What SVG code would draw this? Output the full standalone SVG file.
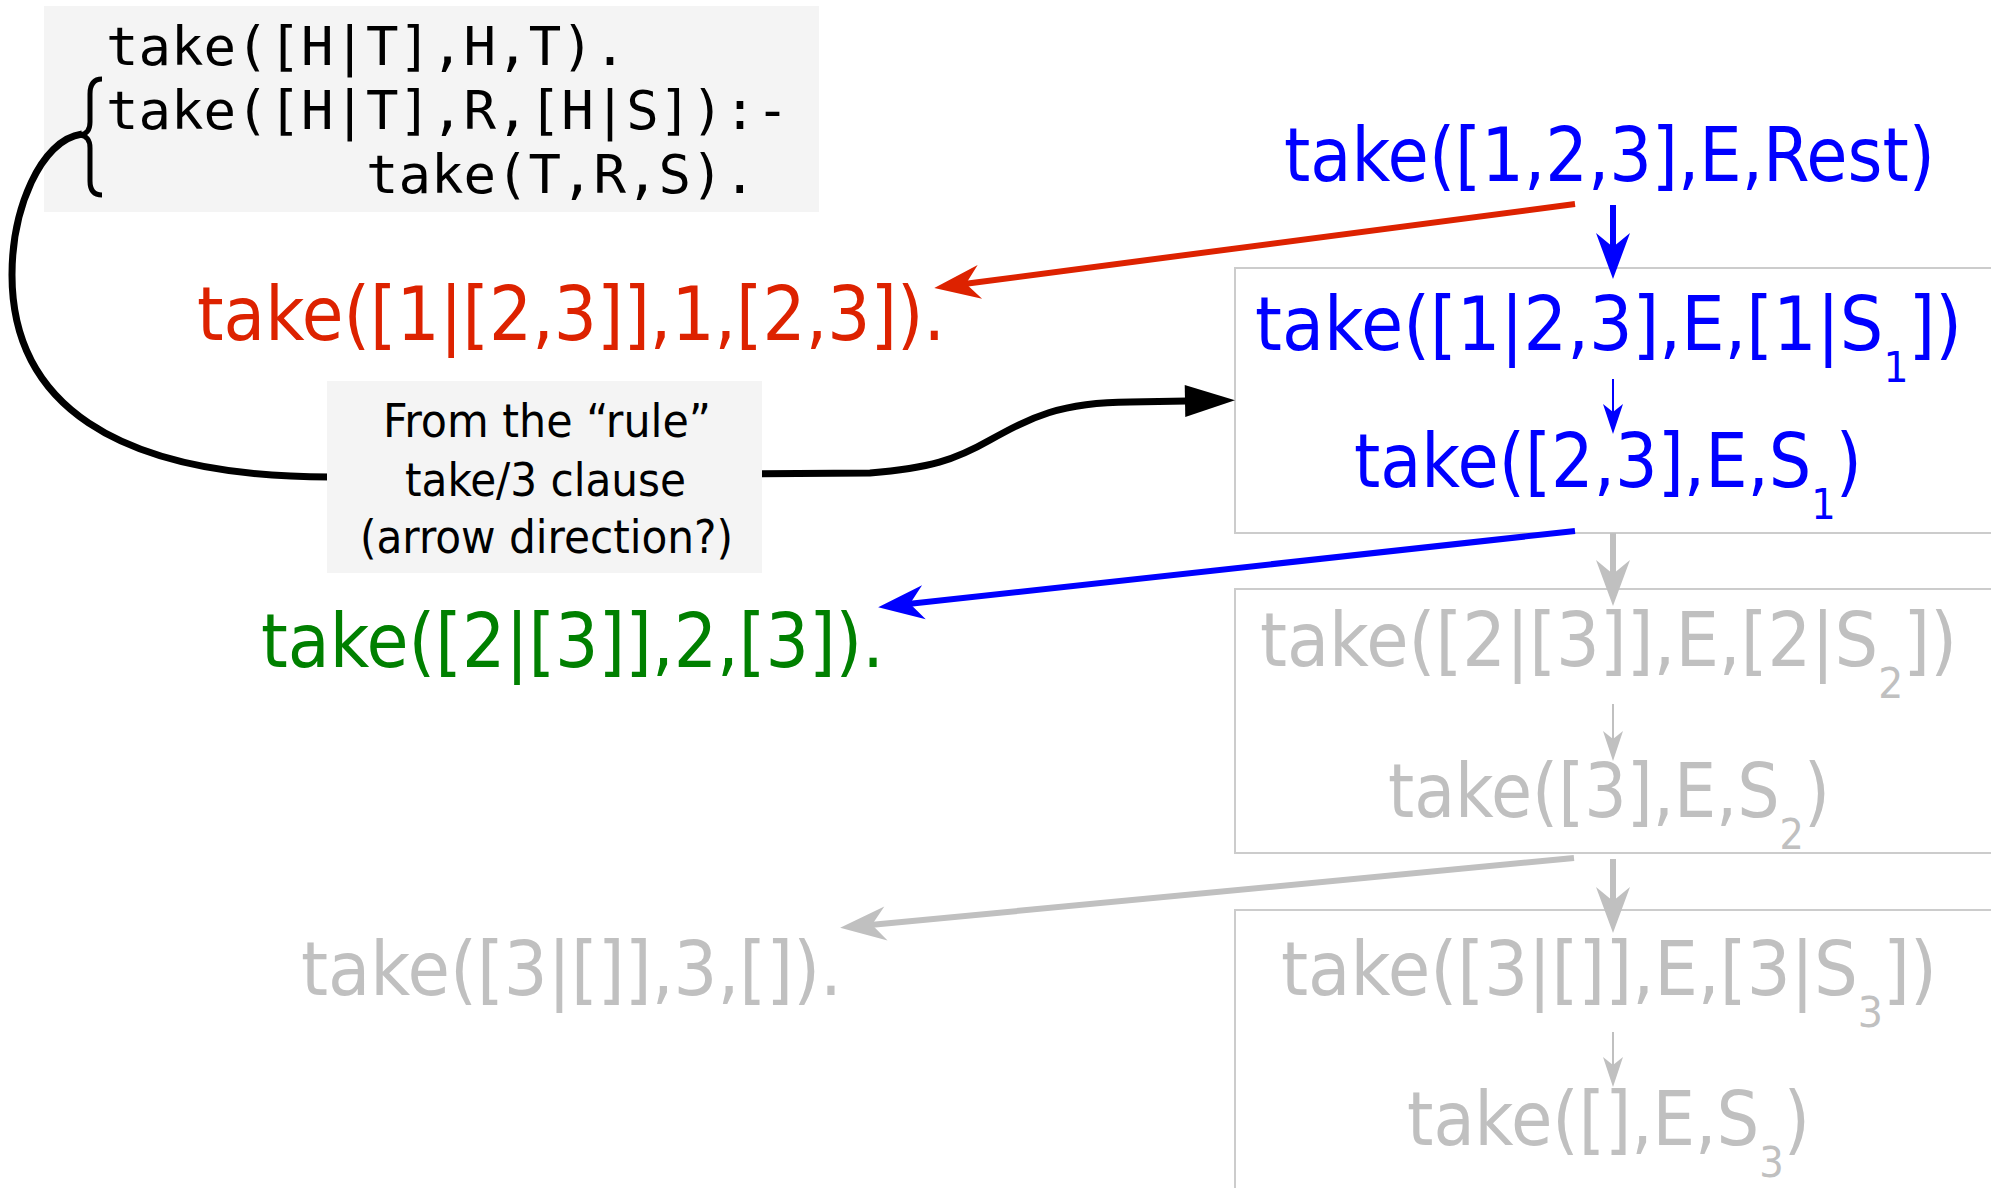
<svg xmlns="http://www.w3.org/2000/svg" width="1991" height="1188" viewBox="0 0 1991 1188">
<defs>
<style>
.code{font-family:"DejaVu Sans Mono","Liberation Mono",monospace;font-size:54px;fill:#000}
.t{font-family:"DejaVu Sans Condensed","DejaVu Sans",sans-serif;font-size:75px}
.sub{font-size:43px}
.lbl{font-family:"DejaVu Sans Condensed","DejaVu Sans",sans-serif;font-size:47px;fill:#000}
.blue{fill:#0000ff}.gray{fill:#c0c0c0}.red{fill:#dd2200}.green{fill:#008000}
.box{fill:none;stroke:#cccccc;stroke-width:2}
.panel{fill:#f4f4f4}
.ln{fill:none;stroke-linecap:butt}
</style>
<marker id="aRed" markerUnits="userSpaceOnUse" markerWidth="46" markerHeight="34" refX="16" refY="17" orient="auto" overflow="visible"><path d="M0,0 L46,17 L0,34 L14,17 z" fill="#dd2200"/></marker>
<marker id="aBlue" markerUnits="userSpaceOnUse" markerWidth="46" markerHeight="34" refX="16" refY="17" orient="auto" overflow="visible"><path d="M0,0 L46,17 L0,34 L14,17 z" fill="#0000ff"/></marker>
<marker id="aGray" markerUnits="userSpaceOnUse" markerWidth="46" markerHeight="34" refX="16" refY="17" orient="auto" overflow="visible"><path d="M0,0 L46,17 L0,34 L14,17 z" fill="#c0c0c0"/></marker>
<marker id="aBlueS" markerUnits="userSpaceOnUse" markerWidth="30" markerHeight="20" refX="10" refY="10" orient="auto" overflow="visible"><path d="M0,0 L30,10 L0,20 L8,10 z" fill="#0000ff"/></marker>
<marker id="aGrayS" markerUnits="userSpaceOnUse" markerWidth="30" markerHeight="20" refX="10" refY="10" orient="auto" overflow="visible"><path d="M0,0 L30,10 L0,20 L8,10 z" fill="#c0c0c0"/></marker>
<marker id="aBlack" markerUnits="userSpaceOnUse" markerWidth="50" markerHeight="32" refX="2" refY="16" orient="auto" overflow="visible"><path d="M0,0 L50,16 L0,32 z" fill="#000"/></marker>
</defs>
<rect width="1991" height="1188" fill="#fff"/>

<g id="code">
<rect class="panel" x="44" y="6" width="775" height="206"/>
<text class="code" x="106" y="65">take([H|T],H,T).</text>
<text class="code" x="106" y="129">take([H|T],R,[H|S]):-</text>
<text class="code" x="366" y="193">take(T,R,S).</text>
<path d="M102,79 C93,79 90,85 90,94 L90,122 C90,130 87,134 80,135 C87,136 90,140 90,148 L90,181 C90,190 94,195 102,195" fill="none" stroke="#000" stroke-width="5"/>
</g>

<g id="box1"><rect class="box" x="1235" y="268" width="780" height="265"/></g>
<g id="box2"><rect class="box" x="1235" y="589" width="780" height="264"/></g>
<g id="box3"><rect class="box" x="1235" y="910" width="780" height="300"/></g>

<g id="connectors">
<path class="ln" d="M82,134 C40,140 12,210 12,275 C12,400 110,477 330,477 L870,473 C930,468 955,460 990,440 C1030,418 1060,402 1130,402 L1187,401" stroke="#000" stroke-width="7" marker-end="url(#aBlack)"/>
<line class="ln" x1="1575" y1="204" x2="964" y2="284" stroke="#dd2200" stroke-width="6" marker-end="url(#aRed)"/>
<line class="ln" x1="1575" y1="531" x2="908" y2="604" stroke="#0000ff" stroke-width="6" marker-end="url(#aBlue)"/>
<line class="ln" x1="1574" y1="858" x2="870" y2="925" stroke="#c0c0c0" stroke-width="6" marker-end="url(#aGray)"/>
<line class="ln" x1="1613" y1="205" x2="1613" y2="249" stroke="#0000ff" stroke-width="6" marker-end="url(#aBlue)"/>
<line class="ln" x1="1613" y1="379" x2="1613" y2="414" stroke="#0000ff" stroke-width="2" marker-end="url(#aBlueS)"/>
<line class="ln" x1="1613" y1="533" x2="1613" y2="576" stroke="#c0c0c0" stroke-width="6" marker-end="url(#aGray)"/>
<line class="ln" x1="1613" y1="704" x2="1613" y2="741" stroke="#c0c0c0" stroke-width="2" marker-end="url(#aGrayS)"/>
<line class="ln" x1="1613" y1="859" x2="1613" y2="903" stroke="#c0c0c0" stroke-width="6" marker-end="url(#aGray)"/>
<line class="ln" x1="1613" y1="1032" x2="1613" y2="1067" stroke="#c0c0c0" stroke-width="2" marker-end="url(#aGrayS)"/>
</g>

<g id="label">
<rect class="panel" x="327" y="381" width="435" height="192"/>
<text class="lbl" x="383" y="437" textLength="328" lengthAdjust="spacingAndGlyphs">From the “rule”</text>
<text class="lbl" x="405" y="496" textLength="281" lengthAdjust="spacingAndGlyphs">take/3 clause</text>
<text class="lbl" x="360" y="553" textLength="373" lengthAdjust="spacingAndGlyphs">(arrow direction?)</text>
</g>

<g id="goal"><text class="t blue" x="1284" y="181" textLength="651" lengthAdjust="spacingAndGlyphs">take([1,2,3],E,Rest)</text></g>
<g id="fact1"><text class="t red" x="197" y="340" textLength="748" lengthAdjust="spacingAndGlyphs">take([1|[2,3]],1,[2,3]).</text></g>
<g id="head1"><text class="t blue" x="1255" y="350" textLength="707" lengthAdjust="spacingAndGlyphs">take([1|2,3],E,[1|S<tspan class="sub" dy="32">1</tspan><tspan dy="-32">])</tspan></text></g>
<g id="body1"><text class="t blue" x="1354" y="487" textLength="508" lengthAdjust="spacingAndGlyphs">take([2,3],E,S<tspan class="sub" dy="32">1</tspan><tspan dy="-32">)</tspan></text></g>
<g id="fact2"><text class="t green" x="261" y="667" textLength="623" lengthAdjust="spacingAndGlyphs">take([2|[3]],2,[3]).</text></g>
<g id="head2"><text class="t gray" x="1260" y="666" textLength="697" lengthAdjust="spacingAndGlyphs">take([2|[3]],E,[2|S<tspan class="sub" dy="32">2</tspan><tspan dy="-32">])</tspan></text></g>
<g id="body2"><text class="t gray" x="1388" y="817" textLength="442" lengthAdjust="spacingAndGlyphs">take([3],E,S<tspan class="sub" dy="32">2</tspan><tspan dy="-32">)</tspan></text></g>
<g id="fact3"><text class="t gray" x="301" y="995" textLength="541" lengthAdjust="spacingAndGlyphs">take([3|[]],3,[]).</text></g>
<g id="head3"><text class="t gray" x="1281" y="995" textLength="656" lengthAdjust="spacingAndGlyphs">take([3|[]],E,[3|S<tspan class="sub" dy="32">3</tspan><tspan dy="-32">])</tspan></text></g>
<g id="body3"><text class="t gray" x="1407" y="1145" textLength="403" lengthAdjust="spacingAndGlyphs">take([],E,S<tspan class="sub" dy="32">3</tspan><tspan dy="-32">)</tspan></text></g>
</svg>
